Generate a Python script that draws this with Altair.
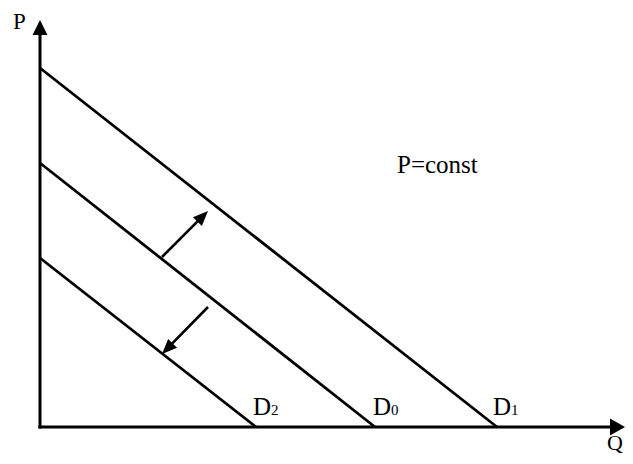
import altair as alt
import pandas as pd
import numpy as np

# Demand curves: intercepts on Q and P axes (chart units)
curve_names = ["D1", "D0", "D2"]
q_intercepts = [457, 335, 216]
p_intercepts = [359, 264, 169]

# Curve labels
label_main = ["D", "D", "D"]
label_sub = ["1", "0", "2"]
label_q = [453, 333, 213]
label_p = [12, 12, 12]

# Shift arrows (start -> tip)
arrow_q0 = [122, 168]
arrow_p0 = [170, 120]
arrow_q1 = [168, 122]
arrow_p1 = [216, 73]
arrow_angle = [45, 225]

# Axes
axis_top = 392      # end of P axis shaft
axis_right = 570    # end of Q axis shaft
head_len = 15

# Annotations
ann_text = ["P", "Q", "P=const"]
ann_q = [-27, 567, 357]
ann_p = [398, -23, 254]
ann_size = [23, 22, 25]

FONT = "Liberation Serif"
xs = alt.Scale(domain=[-32, 585], nice=False, zero=False)
ys = alt.Scale(domain=[-29, 419], nice=False, zero=False)

curves = pd.DataFrame({"name": curve_names, "q0": 0, "p0": p_intercepts,
                       "q1": q_intercepts, "p1": 0})
curve_layer = alt.Chart(curves).mark_rule(color="black", strokeWidth=2.8).encode(
    x=alt.X("q0:Q", scale=xs, axis=None), y=alt.Y("p0:Q", scale=ys, axis=None),
    x2="q1:Q", y2="p1:Q")

axes = pd.DataFrame({"q0": [0, -1.5], "p0": [-1.5, 0], "q1": [0, axis_right], "p1": [axis_top, 0]})
axis_layer = alt.Chart(axes).mark_rule(color="black", strokeWidth=3).encode(
    x=alt.X("q0:Q", scale=xs, axis=None), y=alt.Y("p0:Q", scale=ys, axis=None),
    x2="q1:Q", y2="p1:Q")

axis_heads = pd.DataFrame({"q": [0, axis_right + head_len], "p": [axis_top + head_len, 0],
                           "angle": [0, 90]})
ah_y = alt.Chart(axis_heads.iloc[[0]]).mark_point(
    shape="M0,0L0.5,1L-0.5,1Z", size=900, filled=True, color="black", opacity=1,
    strokeWidth=0).encode(
    x=alt.X("q:Q", scale=xs, axis=None), y=alt.Y("p:Q", scale=ys, axis=None),
    angle=alt.Angle("angle:Q", scale=None))
ah_x = alt.Chart(axis_heads.iloc[[1]]).mark_point(
    shape="M0,0L0.57,1L-0.57,1Z", size=900, filled=True, color="black", opacity=1,
    strokeWidth=0).encode(
    x=alt.X("q:Q", scale=xs, axis=None), y=alt.Y("p:Q", scale=ys, axis=None),
    angle=alt.Angle("angle:Q", scale=None))

q0 = np.array(arrow_q0, float); p0 = np.array(arrow_p0, float)
q1 = np.array(arrow_q1, float); p1 = np.array(arrow_p1, float)
d = np.hypot(q1 - q0, p1 - p0)
arrows = pd.DataFrame({"q0": q0, "p0": p0, "q1": q1, "p1": p1, "angle": arrow_angle,
                       "qs": q1 - (q1 - q0) / d * (head_len - 2),
                       "ps": p1 - (p1 - p0) / d * (head_len - 2)})
shaft = alt.Chart(arrows).mark_rule(color="black", strokeWidth=2.6).encode(
    x=alt.X("q0:Q", scale=xs, axis=None), y=alt.Y("p0:Q", scale=ys, axis=None),
    x2="qs:Q", y2="ps:Q")
heads = alt.Chart(arrows).mark_point(
    shape="M0,0L0.42,1L-0.42,1Z", size=900, filled=True, color="black", opacity=1,
    strokeWidth=0).encode(
    x=alt.X("q1:Q", scale=xs, axis=None), y=alt.Y("p1:Q", scale=ys, axis=None),
    angle=alt.Angle("angle:Q", scale=None))

labels = pd.DataFrame({"main": label_main, "sub": label_sub, "q": label_q, "p": label_p})
lab_main = alt.Chart(labels).mark_text(font=FONT, fontSize=25, align="left",
                                       baseline="alphabetic", color="black").encode(
    x=alt.X("q:Q", scale=xs, axis=None), y=alt.Y("p:Q", scale=ys, axis=None), text="main:N")
lab_sub = alt.Chart(labels).mark_text(font=FONT, fontSize=15, align="left",
                                      baseline="alphabetic", color="black", dx=18).encode(
    x=alt.X("q:Q", scale=xs, axis=None), y=alt.Y("p:Q", scale=ys, axis=None), text="sub:N")

ann = pd.DataFrame({"text": ann_text, "q": ann_q, "p": ann_p, "size": ann_size})
ann_layers = [
    alt.Chart(ann.iloc[[i]]).mark_text(font=FONT, fontSize=int(ann_size[i]), align="left",
                                       baseline="alphabetic", color="black").encode(
        x=alt.X("q:Q", scale=xs, axis=None), y=alt.Y("p:Q", scale=ys, axis=None),
        text="text:N")
    for i in range(len(ann_text))
]

chart = alt.layer(curve_layer, axis_layer, ah_y, ah_x, shaft, heads, lab_main, lab_sub,
                  *ann_layers).properties(
    width=617, height=448, padding=0, autosize=alt.AutoSizeParams(type="none"),
    background="white"
).configure_view(stroke=None)

chart.save("out.html", embed_options={"renderer": "svg", "actions": False})
